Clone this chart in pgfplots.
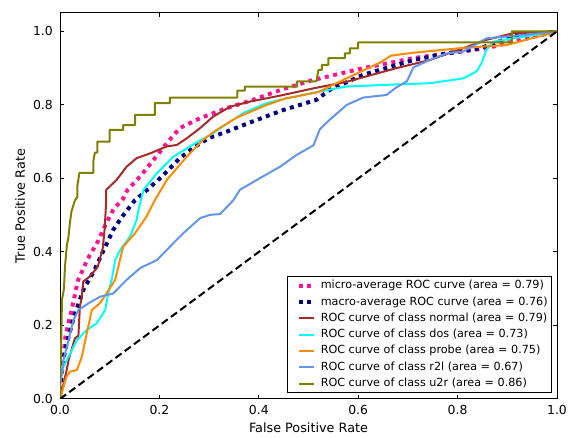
\documentclass[border=0pt]{standalone}
\usepackage{fontspec}
\setmainfont{DejaVu Sans}
\usepackage{pgfplots}
\pgfplotsset{compat=1.18}

\definecolor{cdeeppink}{HTML}{FF1493}
\definecolor{cnavy}{HTML}{000080}
\definecolor{cbrown}{HTML}{A52A2A}
\definecolor{caqua}{HTML}{00FFFF}
\definecolor{cdarkorange}{HTML}{FF8C00}
\definecolor{ccornflower}{HTML}{6495ED}
\definecolor{colive}{HTML}{808000}

\newcommand\tickfont{\fontsize{12.4bp}{14bp}\selectfont}
\newcommand\labfont{\fontsize{12.8bp}{15bp}\selectfont}
\newcommand\legfont{\fontsize{11.2bp}{13bp}\selectfont}

\begin{document}
\begin{tikzpicture}
\begin{axis}[
  name=ax,
  width=497bp, height=386bp, scale only axis,
  xmin=0, xmax=1, ymin=0, ymax=1.05,
  axis line style={line width=1bp, black},
  xtick={0,0.2,0.4,0.6,0.8,1.0},
  ytick={0,0.2,0.4,0.6,0.8,1.0},
  xticklabels={0.0,0.2,0.4,0.6,0.8,1.0},
  yticklabels={0.0,0.2,0.4,0.6,0.8,1.0},
  tick align=inside,
  major tick length=4bp,
  tick style={line width=1bp, black},
  ticklabel style={font=\tickfont},
  xticklabel style={anchor=north, inner sep=0pt, yshift=-6bp},
  yticklabel style={anchor=east, inner sep=0pt, xshift=-7bp},
  xlabel={False Positive Rate},
  ylabel={True Positive Rate},
  xlabel style={font=\labfont, at={(axis description cs:0.5,-0.0751)}, anchor=center},
  ylabel style={font=\labfont, at={(axis description cs:-0.0805,0.5)}, anchor=center},
  legend cell align=left,
  legend style={
    at={(rel axis cs:0.99,0.0155)}, anchor=south east,
    draw=black, line width=0.8bp, fill=white,
    font=\legfont,
    inner xsep=4bp, inner ysep=3.5bp,
    row sep=5.3bp,
    nodes={inner sep=0pt, text height=8.4bp, text depth=2.6bp},
  },
  legend image code/.code={%
    \path (0bp,0bp) (25bp,0bp);
    \draw[#1] (5bp,0bp) -- (20bp,0bp);
  },
  every axis plot/.append style={line join=round},
]

% micro-average
\addplot[cdeeppink, line width=4bp, dash pattern=on 4bp off 4.5bp] coordinates {
(0,0) (0.005,0.09) (0.011,0.17) (0.024,0.246) (0.036,0.322) (0.056,0.382) (0.076,0.428)
(0.092,0.475) (0.108,0.517) (0.127,0.545) (0.136,0.569) (0.161,0.605) (0.188,0.65)
(0.215,0.696) (0.241,0.737) (0.282,0.764) (0.335,0.791) (0.389,0.814) (0.449,0.843)
(0.51,0.868) (0.61,0.9) (0.711,0.927) (0.778,0.94) (0.858,0.954) (0.92,0.975) (1,1)
};
\addlegendentry{micro-average ROC curve (area = 0.79)}

% macro-average
\addplot[cnavy, line width=4bp, dash pattern=on 4bp off 4.5bp] coordinates {
(0,0) (0.003,0.079) (0.011,0.137) (0.028,0.224) (0.048,0.3) (0.068,0.347) (0.091,0.414)
(0.107,0.46) (0.125,0.496) (0.151,0.541) (0.168,0.56) (0.205,0.605) (0.241,0.655)
(0.27,0.685) (0.3,0.71) (0.335,0.727) (0.382,0.752) (0.449,0.786) (0.483,0.8) (0.516,0.814)
(0.543,0.841) (0.61,0.882) (0.711,0.922) (0.778,0.94) (0.845,0.954) (0.912,0.986) (1,1)
};
\addlegendentry{macro-average ROC curve (area = 0.76)}

% class normal
\addplot[cbrown, line width=2bp] coordinates {
(0,0) (0.012,0.07) (0.018,0.11) (0.03,0.165) (0.037,0.172) (0.04,0.25) (0.044,0.28)
(0.047,0.32) (0.06,0.333) (0.076,0.36) (0.086,0.41) (0.09,0.465) (0.093,0.54) (0.093,0.569)
(0.114,0.596) (0.134,0.632) (0.154,0.655) (0.181,0.668) (0.215,0.687) (0.235,0.691)
(0.255,0.709) (0.282,0.737) (0.308,0.768) (0.342,0.795) (0.382,0.809) (0.416,0.818)
(0.449,0.827) (0.51,0.845) (0.577,0.863) (0.677,0.9) (0.744,0.922) (0.811,0.954)
(0.858,0.977) (0.912,0.995) (1,1)
};
\addlegendentry{ROC curve of class normal (area = 0.79)}

% class dos
\addplot[caqua, line width=2bp] coordinates {
(0,0) (0,0.044) (0.007,0.088) (0.034,0.16) (0.054,0.188) (0.074,0.206) (0.091,0.242)
(0.097,0.288) (0.104,0.324) (0.111,0.378) (0.121,0.405) (0.141,0.442) (0.154,0.487)
(0.158,0.514) (0.168,0.569) (0.195,0.614) (0.228,0.659) (0.265,0.69) (0.308,0.723)
(0.335,0.748) (0.372,0.78) (0.416,0.805) (0.45,0.816) (0.52,0.836) (0.577,0.85)
(0.644,0.854) (0.744,0.859) (0.811,0.872) (0.838,0.891) (0.848,0.913) (0.858,0.95)
(0.872,0.972) (0.912,0.981) (1,1)
};
\addlegendentry{ROC curve of class dos (area = 0.73)}

% class probe
\addplot[cdarkorange, line width=2bp] coordinates {
(0,0) (0.013,0.061) (0.02,0.074) (0.034,0.079) (0.044,0.115) (0.054,0.179) (0.064,0.242)
(0.08,0.26) (0.094,0.288) (0.111,0.324) (0.127,0.414) (0.151,0.451) (0.174,0.496)
(0.191,0.541) (0.215,0.596) (0.255,0.659) (0.288,0.705) (0.315,0.732) (0.355,0.765)
(0.39,0.785) (0.416,0.8) (0.455,0.818) (0.483,0.825) (0.52,0.835) (0.57,0.868)
(0.62,0.9) (0.644,0.915) (0.666,0.934) (0.711,0.942) (0.811,0.955) (0.899,0.963)
(0.946,0.98) (0.99,0.995) (1,1)
};
\addlegendentry{ROC curve of class probe (area = 0.75)}

% class r2l
\addplot[ccornflower, line width=2bp] coordinates {
(0,0) (0,0.033) (0.007,0.106) (0.017,0.16) (0.027,0.215) (0.037,0.242) (0.057,0.26)
(0.08,0.278) (0.107,0.287) (0.134,0.324) (0.161,0.356) (0.195,0.378) (0.221,0.414)
(0.248,0.451) (0.282,0.492) (0.302,0.501) (0.322,0.503) (0.349,0.541) (0.362,0.569)
(0.396,0.596) (0.443,0.632) (0.476,0.664) (0.51,0.69) (0.523,0.734) (0.543,0.76)
(0.577,0.8) (0.61,0.82) (0.657,0.827) (0.677,0.848) (0.698,0.864) (0.711,0.902)
(0.744,0.922) (0.778,0.94) (0.811,0.945) (0.858,0.981) (0.899,0.986) (0.99,0.998) (1,1)
};
\addlegendentry{ROC curve of class r2l (area = 0.67)}

% class u2r
\addplot[colive, line width=2bp] coordinates {
(0,0) (0,0.05) (0.002,0.12) (0.003,0.2) (0.004,0.27) (0.008,0.3) (0.01,0.36) (0.014,0.42)
(0.017,0.44) (0.02,0.48) (0.023,0.51) (0.03,0.54) (0.035,0.55) (0.035,0.58) (0.039,0.615)
(0.067,0.615) (0.067,0.645) (0.07,0.67) (0.075,0.67) (0.075,0.7) (0.1,0.7) (0.1,0.732)
(0.127,0.732) (0.127,0.745) (0.151,0.745) (0.151,0.773) (0.191,0.773) (0.191,0.805)
(0.221,0.805) (0.221,0.82) (0.357,0.82) (0.357,0.839) (0.372,0.839) (0.372,0.85)
(0.477,0.85) (0.477,0.864) (0.516,0.864) (0.52,0.895) (0.527,0.895) (0.527,0.909)
(0.54,0.909) (0.54,0.927) (0.573,0.927) (0.573,0.94) (0.583,0.94) (0.583,0.954)
(0.6,0.954) (0.6,0.97) (0.909,0.97) (0.909,1.0) (1,1)
};
\addlegendentry{ROC curve of class u2r (area = 0.86)}

% chance line
\addplot[black, line width=2bp, dash pattern=on 7.5bp off 4bp, forget plot] coordinates {(0,0) (1,1)};

\end{axis}
\path ([shift={(-60bp,-39bp)}]ax.south west) rectangle ([shift={(19bp,13bp)}]ax.north east);
\end{tikzpicture}
\end{document}
